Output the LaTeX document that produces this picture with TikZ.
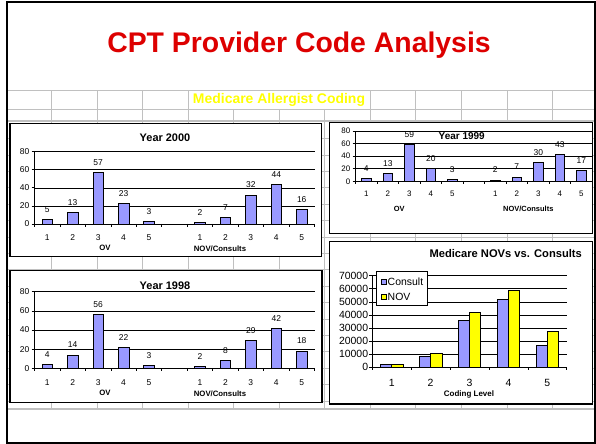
\documentclass[tikz,border=0pt]{standalone}
\usepackage{fontspec}
\setmainfont{Liberation Sans}
\definecolor{barblue}{RGB}{153,153,255}
\definecolor{baryellow}{RGB}{255,255,0}
\definecolor{titlered}{RGB}{221,0,0}
\definecolor{gridgrey}{RGB}{192,192,192}
\newcommand\yrchart[1]{%
  \foreach \v in {20,40,60,80}{\draw[cgrid] ({\cx},{\cy-\v*\cu}) -- ({\cr},{\cy-\v*\cu});}
  \foreach \v in {0,20,40,60,80}{%
    \draw[axisl] ({\cx-3},{\cy-\v*\cu}) -- ({\cx},{\cy-\v*\cu});
    \node[anchor=east, font=\tickfont, inner sep=0pt] (#1-y\v) at ({\cx-5},{\cy-\v*\cu}) {\v};}
  \foreach \v [count=\i] in \ovvals{%
    \pgfmathsetmacro\bc{\cx+(\i-0.5)*\cw}
    \draw[bar] ({\bc-\bw/2},{\cy}) rectangle ({\bc+\bw/2},{\cy-\v*\cu});
    \node[font=\valfont, inner sep=0pt] (#1-ov\i) at ({\bc},{\cy-\v*\cu-10}) {\v};
    \node[font=\tickfont, inner sep=0pt] (#1-oc\i) at ({\bc},{\labY}) {\i};}
  \foreach \v [count=\i] in \novvals{%
    \pgfmathsetmacro\bc{\cx+(\i+5.5)*\cw}
    \draw[bar] ({\bc-\bw/2},{\cy}) rectangle ({\bc+\bw/2},{\cy-\v*\cu});
    \node[font=\valfont, inner sep=0pt] (#1-nv\i) at ({\bc},{\cy-\v*\cu-10}) {\v};
    \node[font=\tickfont, inner sep=0pt] (#1-nc\i) at ({\bc},{\labY}) {\i};}
  \draw[axisl] ({\cx},{\cy}) -- ({\cx},{\cy-80*\cu});
  \draw[axisl] ({\cx},{\cy}) -- ({\cr},{\cy});
  \foreach \k in {0,...,11}{\draw[axisl] ({\cx+\k*\cw},{\cy}) -- ++(0,3);}
  \node[font=\grpfont, inner sep=0pt] (#1-gov) at (\ovX,\grpY) {OV};
  \node[font=\grpfont, inner sep=0pt] (#1-gnov) at (\novX,\grpY) {NOV/Consults};
}
\begin{document}
\begin{tikzpicture}[x=1bp,y=-1bp,
  gridl/.style={draw=gridgrey, line width=0.9bp},
  gridthick/.style={draw=gridgrey, line width=1.8bp},
  panel/.style={draw=black, line width=1.3bp, fill=white},
  cgrid/.style={draw=black, line width=0.6bp},
  axisl/.style={draw=black, line width=0.7bp},
  bar/.style={draw=black, line width=0.6bp, fill=barblue},
  nbar/.style={draw=black, line width=0.6bp, fill=baryellow}]
\useasboundingbox (0,0) rectangle (596,444);
\fill[white] (0,0) rectangle (596,444);
% spreadsheet grid
\foreach \k in {0,1,2,3,7,8,9,10,11}{\draw[gridl] ({51.5+45.55*\k},90.7) -- ({51.5+45.55*\k},409);}
\foreach \k in {4,5,6}{\draw[gridl] ({51.5+45.55*\k},109) -- ({51.5+45.55*\k},409);}
\draw[gridl] (7,90.7) -- (595,90.7);
\draw[gridl] (7,109) -- (595,109);
\foreach \k in {-6,...,10}{\draw[gridl] (7,{237+16.4*\k}) -- (595,{237+16.4*\k});}
\draw[gridthick] (7,121) -- (595,121);
\draw[gridthick] (7,409) -- (595,409);
% titles
\node[font={\fontsize{28.5}{30}\selectfont\bfseries}, text=titlered, inner sep=0pt] (title) at (299,45) {CPT Provider Code Analysis};
\node[font={\fontsize{14}{15}\selectfont\bfseries}, text=baryellow, inner sep=0pt] (sub) at (279,100) {Medicare Allergist Coding};
% panels
\draw[panel] (10,123.3) rectangle (321.5,256.7);
\draw[panel] (329.3,122.7) rectangle (592.3,233.3);
\draw[panel] (10,270.7) rectangle (322,402.7);
\draw[panel] (329.3,241.7) rectangle (592.3,404);
% Year 2000
\def\tickfont{\fontsize{8.5}{9}\selectfont}
\def\valfont{\fontsize{8.5}{9}\selectfont}
\def\grpfont{\fontsize{7.8}{9}\selectfont\bfseries}
\def\cx{34.5}\def\cy{224}\def\cu{0.904}\def\cw{25.45}\def\cr{314.5}\def\bw{10.5}
\def\labY{237.3}\def\grpY{248.3}\def\ovX{105}\def\novX{220}
\def\ovvals{5,13,57,23,3}\def\novvals{2,7,32,44,16}
\yrchart{a}
\node[font={\fontsize{11}{12}\selectfont\bfseries}, inner sep=0pt] (t2000) at (165,137.3) {Year 2000};
% Year 1998
\def\cy{368.3}\def\cu{0.9575}
\def\labY{382.3}\def\grpY{393.3}
\def\ovvals{4,14,56,22,3}\def\novvals{2,8,29,42,18}
\yrchart{c}
\node[font={\fontsize{11}{12}\selectfont\bfseries}, inner sep=0pt] (t1998) at (165,285.7) {Year 1998};
% Year 1999
\def\tickfont{\fontsize{8}{9}\selectfont}
\def\grpfont{\fontsize{7.5}{9}\selectfont\bfseries}
\def\cx{355.5}\def\cy{181.3}\def\cu{0.629}\def\cw{21.5}\def\cr{592}\def\bw{9.5}
\def\labY{194}\def\grpY{209.3}\def\ovX{399.3}\def\novX{528.3}
\def\ovvals{4,13,59,20,3}\def\novvals{2,7,30,43,17}
\yrchart{b}
\node[font={\fontsize{10}{12}\selectfont\bfseries}, inner sep=0pt] (t1999) at (461.7,135.7) {Year 1999};
% Medicare NOVs vs Consults
\def\mx{372.3}\def\my{367.3}\def\mw{38.9}\def\mr{566.7}\def\mb{11.2}
\foreach \k in {1,...,7}{\draw[cgrid] ({\mx},{\my-13.09*\k}) -- ({\mr},{\my-13.09*\k});}
\foreach \v [count=\i] in {2.3,8.1,36.1,51.9,16.8}{%
  \pgfmathsetmacro\bc{\mx+(\i-0.5)*\mw}
  \draw[bar] ({\bc-\mb},{\my}) rectangle ({\bc},{\my-\v*1.309});
  \node[font={\fontsize{10.5}{12}\selectfont}, inner sep=0pt] (m-c\i) at ({\bc},383.3) {\i};}
\foreach \v [count=\i] in {2.3,10.9,42.0,59.0,27.5}{%
  \pgfmathsetmacro\bc{\mx+(\i-0.5)*\mw}
  \draw[nbar] ({\bc},{\my}) rectangle ({\bc+\mb},{\my-\v*1.309});}
\foreach \k in {0,...,7}{\draw[axisl] ({\mx-3},{\my-13.09*\k}) -- ({\mx},{\my-13.09*\k});}
\node[anchor=east, font={\fontsize{10.5}{12}\selectfont}, inner sep=0pt] (m-y0) at ({\mx-4},{\my}) {0};
\foreach \k in {1,...,7}{\node[anchor=east, font={\fontsize{10.5}{12}\selectfont}, inner sep=0pt] (m-y\k) at ({\mx-4},{\my-13.09*\k}) {\k0000};}
\draw[axisl] ({\mx},{\my}) -- ({\mx},{\my-13.09*7});
\draw[axisl] ({\mx},{\my}) -- ({\mr},{\my});
\foreach \k in {0,...,5}{\draw[axisl] ({\mx+\k*\mw},{\my}) -- ++(0,3);}
\node[font={\fontsize{8}{9}\selectfont\bfseries}, inner sep=0pt] (m-xl) at (469,394.3) {Coding Level};
\node[font={\fontsize{11.2}{12}\selectfont\bfseries}, inner sep=0pt] (m-t) at (505.7,253.3) {Medicare NOVs vs. Consults};
% legend
\draw[draw=black, line width=0.7bp, fill=white] (376.7,271.7) rectangle (427,305);
\draw[bar] (381,279.2) rectangle (386,284.2);
\draw[nbar] (381,294.5) rectangle (386,299.5);
\node[anchor=west, font={\fontsize{10.5}{12}\selectfont}, inner sep=0pt] (lg1) at (387.5,281.7) {Consult};
\node[anchor=west, font={\fontsize{10.5}{12}\selectfont}, inner sep=0pt] (lg2) at (387.5,297) {NOV};
% outer frame
\draw[line width=2bp] (7,2) rectangle (595,443);
\end{tikzpicture}
\end{document}
